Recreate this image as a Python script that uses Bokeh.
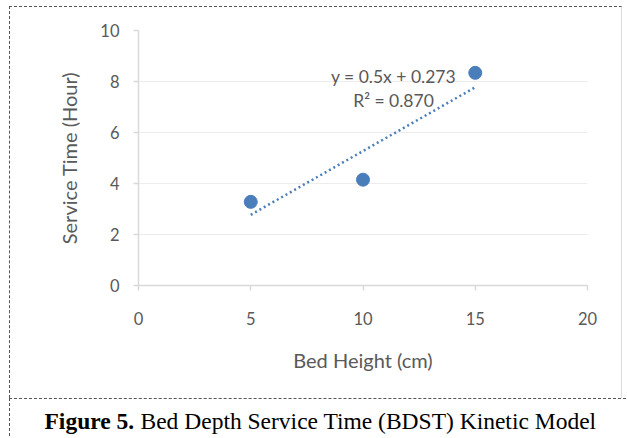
from bokeh.plotting import figure
from bokeh.layouts import column
from bokeh.models import Range1d, FixedTicker, Label
from bokeh.embed import file_html
from bokeh.resources import INLINE

# ---- data ----
bed_height = [5, 10, 15]
service_time = [3.28, 4.15, 8.34]
trend_slope = 0.5
trend_intercept = 0.273
r_squared = 0.870
trend_x = [5, 15]
x_ticks = [0, 5, 10, 15, 20]
y_ticks = [0, 2, 4, 6, 8, 10]
x_label = "Bed Height (cm)"
y_label = "Service Time (Hour)"
caption_bold = "Figure 5."
caption_rest = "Bed Depth Service Time (BDST) Kinetic Model"

trend_y = [trend_slope * x + trend_intercept for x in trend_x]

# ---- layout ----
W, H = 613, 392
FL, FT, FW, FH = 128, 23, 449, 255
XMAX, YMAX = 20, 10
OX, OY = 10, 7  # page position of chart canvas

def dx(px):  # page px -> data x
    return (px - OX - FL) / (FW / XMAX)

def dy(py):  # page px -> data y
    return (FT + FH - (py - OY)) / (FH / YMAX)

dash_css = "1px dashed #555555"

p = figure(width=W, height=H, output_backend="svg", toolbar_location=None,
           x_range=Range1d(0, XMAX), y_range=Range1d(0, YMAX),
           min_border_left=FL, min_border_right=W - FL - FW,
           min_border_top=FT, min_border_bottom=H - FT - FH)
p.margin = (6, 0, 0, 9)
p.styles = {"border-top": dash_css, "border-left": dash_css, "border-right": "1px solid #dddddd"}
p.outline_line_color = None
p.background_fill_color = "white"
p.border_fill_color = "white"

gray = "#595959"
axis_col = "#d9d9d9"
font = "Lato"

for ax in (p.xaxis[0], p.yaxis[0]):
    ax.axis_line_color = axis_col
    ax.axis_line_width = 1.5
    ax.major_tick_line_color = axis_col
    ax.major_tick_line_width = 1.5
    ax.major_tick_out = 5
    ax.major_tick_in = 0
    ax.minor_tick_line_color = None
    ax.major_label_text_color = gray
    ax.major_label_text_font = font
    ax.major_label_text_font_size = "16.5px"
    ax.axis_label_text_color = gray
    ax.axis_label_text_font = font
    ax.axis_label_text_font_size = "20px"
    ax.axis_label_text_font_style = "normal"

p.xaxis.ticker = FixedTicker(ticks=x_ticks)
p.yaxis.ticker = FixedTicker(ticks=y_ticks)
p.xaxis.axis_label = x_label
p.yaxis.axis_label = y_label
p.xaxis.major_label_standoff = 21
p.yaxis.major_label_standoff = 14
p.xaxis.axis_label_standoff = 20
p.yaxis.axis_label_standoff = 16

p.xgrid.visible = False
p.ygrid.ticker = FixedTicker(ticks=y_ticks)
p.ygrid.grid_line_color = "#ececec"
p.ygrid.grid_line_width = 1.2

blue = "#4a7ebb"
p.line(trend_x, trend_y, line_color=blue, line_width=2.5, line_dash="2 3")
p.scatter(bed_height, service_time, size=13, fill_color=blue, line_color=blue)

eq1 = f"y = {trend_slope}x + {trend_intercept}"
eq2 = f"R\u00b2 = {r_squared:.3f}"
p.add_layout(Label(x=dx(393), y=dy(76), text=eq1, text_align="center", text_baseline="middle",
                   text_font=font, text_font_size="17.5px", text_color=gray))
p.add_layout(Label(x=dx(393), y=dy(100), text=eq2, text_align="center", text_baseline="middle",
                   text_font=font, text_font_size="17.5px", text_color=gray))

# ---- caption ----
CW, CH = 617, 38
CX, CY = 10, 400
cap = figure(width=CW, height=CH, output_backend="svg", toolbar_location=None,
             x_range=Range1d(0, CW), y_range=Range1d(CH, 0),
             x_axis_location=None, y_axis_location=None,
             min_border=0)
cap.margin = (0, 0, 0, 9)
cap.styles = {"border-top": dash_css, "border-left": dash_css}
cap.outline_line_color = None
cap.xgrid.visible = False
cap.ygrid.visible = False
cap.background_fill_color = "white"
cap.border_fill_color = "white"

for fig in (p, cap):
    if "frame_align" in fig.properties():
        fig.frame_align = False

cap.add_layout(Label(x=44 - CX, y=421 - CY, text=caption_bold, text_align="left", text_baseline="alphabetic",
                     text_font="Liberation Serif", text_font_size="23.5px", text_font_style="bold",
                     text_color="black"))
cap.add_layout(Label(x=140 - CX, y=421 - CY, text=caption_rest, text_align="left", text_baseline="alphabetic",
                     text_font="Liberation Serif", text_font_size="23.5px", text_color="black"))

layout = column(p, cap, spacing=0)
open("out.html", "w").write(file_html(layout, INLINE))
